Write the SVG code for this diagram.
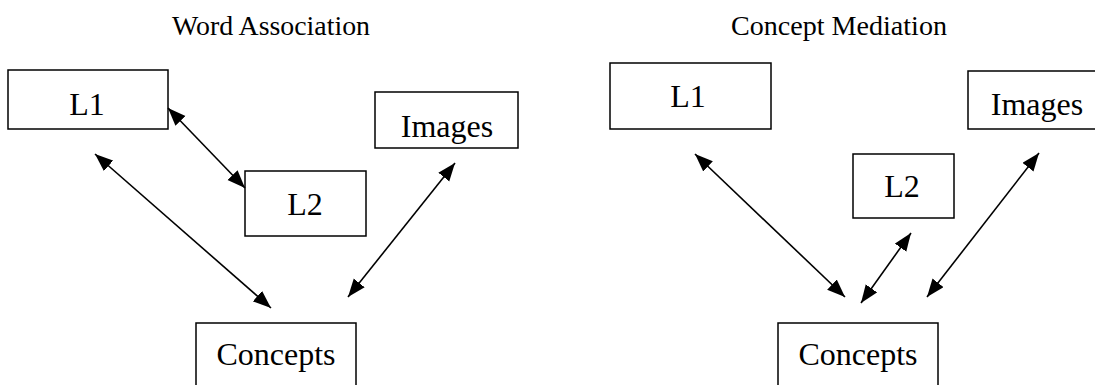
<svg xmlns="http://www.w3.org/2000/svg" width="1095" height="385" viewBox="0 0 1095 385">
  <style>
    .box { fill: #ffffff; stroke: #000000; stroke-width: 1.5; }
    .lbl { font-family: "Liberation Serif", "Times New Roman", serif; font-size: 32px; fill: #000000; text-anchor: middle; }
    .title { font-family: "Liberation Serif", "Times New Roman", serif; font-size: 27px; fill: #000000; }
    .link { stroke: #000000; stroke-width: 1.6; fill: none; marker-start: url(#head); marker-end: url(#head); }
  </style>
  <defs>
    <marker id="head" markerUnits="userSpaceOnUse" markerWidth="19" markerHeight="15" refX="18" refY="7" orient="auto-start-reverse">
      <path d="M0,0 L18,7 L0,14 z" fill="#000000"/>
    </marker>
  </defs>
  <rect width="1095" height="385" fill="#ffffff"/>

  <!-- panel titles -->
  <text class="title" x="172" y="35" textLength="198" lengthAdjust="spacingAndGlyphs">Word Association</text>
  <text class="title" x="731" y="35" textLength="216" lengthAdjust="spacingAndGlyphs">Concept Mediation</text>

  <!-- left panel: word association model -->
  <g id="wa-l1">
    <rect class="box" x="8" y="70" width="160" height="59"/>
    <text class="lbl" x="87" y="115">L1</text>
  </g>
  <g id="wa-l2">
    <rect class="box" x="245" y="171" width="121" height="65"/>
    <text class="lbl" x="305" y="215">L2</text>
  </g>
  <g id="wa-images">
    <rect class="box" x="375" y="92" width="143" height="56"/>
    <text class="lbl" x="447" y="137">Images</text>
  </g>
  <g id="wa-concepts">
    <rect class="box" x="196" y="323" width="160" height="70"/>
    <text class="lbl" x="276" y="365">Concepts</text>
  </g>

  <!-- right panel: concept mediation model -->
  <g id="cm-l1">
    <rect class="box" x="610" y="63" width="161" height="66"/>
    <text class="lbl" x="688" y="107">L1</text>
  </g>
  <g id="cm-l2">
    <rect class="box" x="853" y="154" width="101" height="64"/>
    <text class="lbl" x="902" y="197">L2</text>
  </g>
  <g id="cm-images">
    <rect class="box" x="968" y="71" width="130" height="58"/>
    <text class="lbl" x="1037" y="115">Images</text>
  </g>
  <g id="cm-concepts">
    <rect class="box" x="778" y="323" width="160" height="70"/>
    <text class="lbl" x="858" y="365">Concepts</text>
  </g>

  <!-- two-way links -->
  <g id="connectors">
    <line class="link" x1="168" y1="108" x2="245" y2="188"/>
    <line class="link" x1="95" y1="154" x2="271" y2="308"/>
    <line class="link" x1="455" y1="163" x2="348" y2="297"/>
    <line class="link" x1="695" y1="154" x2="845" y2="297"/>
    <line class="link" x1="911" y1="233" x2="861" y2="303"/>
    <line class="link" x1="1039" y1="153" x2="927" y2="297"/>
  </g>
</svg>
